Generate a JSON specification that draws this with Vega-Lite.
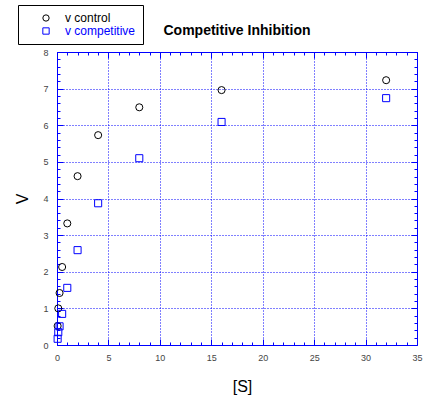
{
  "$schema": "https://vega.github.io/schema/vega-lite/v6.json",
  "autosize": "none",
  "width": 360,
  "height": 293,
  "padding": {"left": 57, "top": 52, "right": 9, "bottom": 54},
  "background": "white",
  "title": {"text": "Competitive Inhibition", "font": "Liberation Sans", "fontSize": 14, "fontWeight": "bold", "color": "black", "anchor": "middle", "offset": 0, "dy": 33},
  "config": {"view": {"stroke": null}},
  "data": {"values": [
    {"S": 0.0625, "V": 0.52, "series": "v control"},
    {"S": 0.125, "V": 1.0, "series": "v control"},
    {"S": 0.25, "V": 1.42, "series": "v control"},
    {"S": 0.5, "V": 2.13, "series": "v control"},
    {"S": 1, "V": 3.32, "series": "v control"},
    {"S": 2, "V": 4.61, "series": "v control"},
    {"S": 4, "V": 5.73, "series": "v control"},
    {"S": 8, "V": 6.49, "series": "v control"},
    {"S": 16, "V": 6.96, "series": "v control"},
    {"S": 32, "V": 7.23, "series": "v control"},
    {"S": 0.0625, "V": 0.17, "series": "v competitive"},
    {"S": 0.125, "V": 0.35, "series": "v competitive"},
    {"S": 0.25, "V": 0.51, "series": "v competitive"},
    {"S": 0.5, "V": 0.85, "series": "v competitive"},
    {"S": 1, "V": 1.56, "series": "v competitive"},
    {"S": 2, "V": 2.59, "series": "v competitive"},
    {"S": 4, "V": 3.87, "series": "v competitive"},
    {"S": 8, "V": 5.1, "series": "v competitive"},
    {"S": 16, "V": 6.09, "series": "v competitive"},
    {"S": 32, "V": 6.74, "series": "v competitive"}
  ]},
  "layer": [
    {
      "mark": {"type": "point", "filled": false, "size": 50, "strokeWidth": 1, "opacity": 1},
      "encoding": {
        "x": {"field": "S", "type": "quantitative", "scale": {"domain": [0, 35], "nice": false, "zero": false},
          "axis": {"orient": "bottom", "title": "[S]", "titleFont": "Liberation Sans", "titleFontSize": 16, "titleFontWeight": "normal", "titleColor": "black", "titlePadding": 16, "titleX": 185,
            "values": [0,1,2,3,4,5,6,7,8,9,10,11,12,13,14,15,16,17,18,19,20,21,22,23,24,25,26,27,28,29,30,31,32,33,34,35],
            "labelExpr": "datum.value % 5 === 0 ? '' + datum.value : ''",
            "labelFont": "Liberation Sans", "labelFontSize": 9, "labelColor": "#444444", "labelPadding": 8, "labelFlush": false, "labelOverlap": false,
            "domainColor": "#0000ff", "domainWidth": 1, "tickColor": "#0000ff", "tickWidth": 1, "tickSize": 0,
            "grid": true, "gridColor": "#0000ff", "gridDash": [1, 2], "gridWidth": 1,
            "gridOpacity": {"condition": {"test": "datum.value % 5 === 0", "value": 1}, "value": 0},
            "encoding": {
              "ticks": {"y2": {"condition": {"test": "datum.value % 5 === 0", "value": -6}, "value": -3}}
            }}},
        "y": {"field": "V", "type": "quantitative", "scale": {"domain": [0, 8], "nice": false},
          "axis": {"orient": "left", "title": "V", "titleFont": "Liberation Sans", "titleFontSize": 16, "titleFontWeight": "normal", "titleColor": "black", "titlePadding": 12,
            "values": [0,0.2,0.4,0.6,0.8,1,1.2,1.4,1.6,1.8,2,2.2,2.4,2.6,2.8,3,3.2,3.4,3.6,3.8,4,4.2,4.4,4.6,4.8,5,5.2,5.4,5.6,5.8,6,6.2,6.4,6.6,6.8,7,7.2,7.4,7.6,7.8,8],
            "labelExpr": "abs(datum.value - round(datum.value)) < 0.001 ? '' + round(datum.value) : ''",
            "labelFont": "Liberation Sans", "labelFontSize": 9, "labelColor": "#444444", "labelPadding": 9, "labelFlush": false, "labelOverlap": false,
            "domainColor": "#0000ff", "domainWidth": 1, "tickColor": "#0000ff", "tickWidth": 1, "tickSize": 0,
            "grid": true, "gridColor": "#0000ff", "gridDash": [1, 2], "gridWidth": 1,
            "gridOpacity": {"condition": {"test": "abs(datum.value - round(datum.value)) < 0.001", "value": 1}, "value": 0},
            "encoding": {
              "ticks": {"x2": {"condition": {"test": "abs(datum.value - round(datum.value)) < 0.001", "value": 6}, "value": 3}}
            }}},
        "shape": {"field": "series", "type": "nominal", "scale": {"domain": ["v control", "v competitive"], "range": ["circle", "square"]},
          "legend": {"title": null, "orient": "none", "legendX": -39, "legendY": -47, "strokeColor": "black", "fillColor": "white", "padding": 7, "symbolOffset": 15, "labelOffset": 13, "labelFont": "Liberation Sans", "labelFontSize": 12, "symbolSize": 40, "symbolStrokeWidth": 1, "rowPadding": 1,
            "encoding": {"labels": {"fill": {"condition": {"test": "datum.value === 'v control'", "value": "black"}, "value": "#0000ff"}}}}},
        "color": {"field": "series", "type": "nominal", "scale": {"domain": ["v control", "v competitive"], "range": ["black", "#0000ff"]},
          "legend": {"title": null, "orient": "none", "legendX": -39, "legendY": -47, "strokeColor": "black", "fillColor": "white", "padding": 7, "symbolOffset": 15, "labelOffset": 13, "labelFont": "Liberation Sans", "labelFontSize": 12, "symbolSize": 40, "symbolStrokeWidth": 1, "rowPadding": 1,
            "encoding": {"labels": {"fill": {"condition": {"test": "datum.value === 'v control'", "value": "black"}, "value": "#0000ff"}}}}}
      }
    },
    {
      "mark": {"type": "point", "opacity": 0},
      "encoding": {
        "x": {"field": "S", "type": "quantitative", "scale": {"domain": [0, 35], "nice": false, "zero": false},
          "axis": {"orient": "top", "title": null, "labels": false, "grid": false,
            "values": [0,1,2,3,4,5,6,7,8,9,10,11,12,13,14,15,16,17,18,19,20,21,22,23,24,25,26,27,28,29,30,31,32,33,34,35],
            "domainColor": "#0000ff", "domainWidth": 1, "tickColor": "#0000ff", "tickWidth": 1, "tickSize": 0,
            "encoding": {"ticks": {"y2": {"condition": {"test": "datum.value % 5 === 0", "value": 6}, "value": 3}}}}},
        "y": {"field": "V", "type": "quantitative", "scale": {"domain": [0, 8], "nice": false},
          "axis": {"orient": "right", "title": null, "labels": false, "grid": false,
            "values": [0,0.2,0.4,0.6,0.8,1,1.2,1.4,1.6,1.8,2,2.2,2.4,2.6,2.8,3,3.2,3.4,3.6,3.8,4,4.2,4.4,4.6,4.8,5,5.2,5.4,5.6,5.8,6,6.2,6.4,6.6,6.8,7,7.2,7.4,7.6,7.8,8],
            "domainColor": "#0000ff", "domainWidth": 1, "tickColor": "#0000ff", "tickWidth": 1, "tickSize": 0,
            "encoding": {"ticks": {"x2": {"condition": {"test": "abs(datum.value - round(datum.value)) < 0.001", "value": -6}, "value": -3}}}}}
      }
    }
  ],
  "resolve": {"axis": {"x": "independent", "y": "independent"}}
}
